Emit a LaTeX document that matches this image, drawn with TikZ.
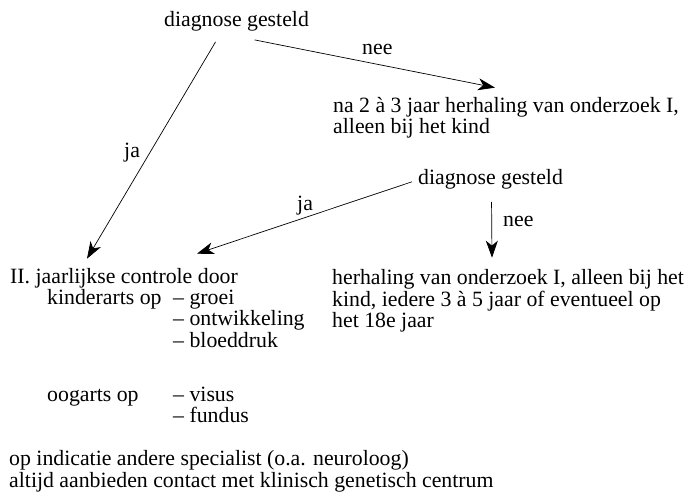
\documentclass[tikz,border=0pt]{standalone}
\usepackage{fontspec}
\setmainfont{Liberation Serif}
\usetikzlibrary{arrows.meta,positioning}
\tikzset{
  txt/.style={anchor=base west,inner sep=0pt,font=\fontsize{21.8}{21}\selectfont},
  pijl/.style={-{Stealth[length=17pt,width=12pt,inset=5pt]},line width=0.7pt}
}
\begin{document}
\begin{tikzpicture}[x=1pt,y=-1pt]
\useasboundingbox (0,0) rectangle (688,494);
\node[txt] (diag1) at (164,27) {diagnose gesteld};
\node[txt] (nee1) at (362,55) {nee};
\node[txt] (ja1) at (124,158) {ja};
\node[txt] (herh1) at (333,113) {na 2 à 3 jaar herhaling van onderzoek I,};
\node[txt] (herh1b) at (333,134) {alleen bij het kind};
\node[txt] (diag2) at (418,185) {diagnose gesteld};
\node[txt] (ja2) at (297,211) {ja};
\node[txt] (nee2) at (503,227) {nee};
\node[txt] (ctrl) at (10,284) {II. jaarlijkse controle door};
\node[txt] (kind) at (47,305) {kinderarts op};
\node[txt] (groei) at (173,305) {-- groei};
\node[txt] (ontw) at (173,326) {-- ontwikkeling};
\node[txt] (bloed) at (173,347) {-- bloeddruk};
\node[txt] (oog) at (47,401) {oogarts op};
\node[txt] (visus) at (173,401) {-- visus};
\node[txt] (fundus) at (173,422) {-- fundus};
\node[txt] (ind) at (9,465) {op indicatie andere specialist (o.a. neuroloog)};
\node[txt] (altijd) at (9,487) {altijd aanbieden contact met klinisch genetisch centrum};
\node[txt] (herh2) at (332,285) {herhaling van onderzoek I, alleen bij het};
\node[txt] (herh2b) at (332,306) {kind, iedere 3 à 5 jaar of eventueel op};
\node[txt] (herh2c) at (332,327) {het 18e jaar};
\draw[pijl] ([xshift=-21pt,yshift=-10pt]diag1.south) -- ([xshift=77pt,yshift=10pt]ctrl.north west);
\draw[pijl] ([xshift=18pt,yshift=-8pt]diag1.south) -- ([xshift=162pt,yshift=10pt]herh1.north west);
\draw[pijl] ([xshift=-6pt,yshift=-2pt]diag2.west) -- ([xshift=187pt,yshift=15pt]ctrl.north west);
\draw[pijl] ([xshift=1pt,yshift=-12pt]diag2.south) -- ([xshift=160pt,yshift=12pt]herh2.north west);
\end{tikzpicture}
\end{document}
